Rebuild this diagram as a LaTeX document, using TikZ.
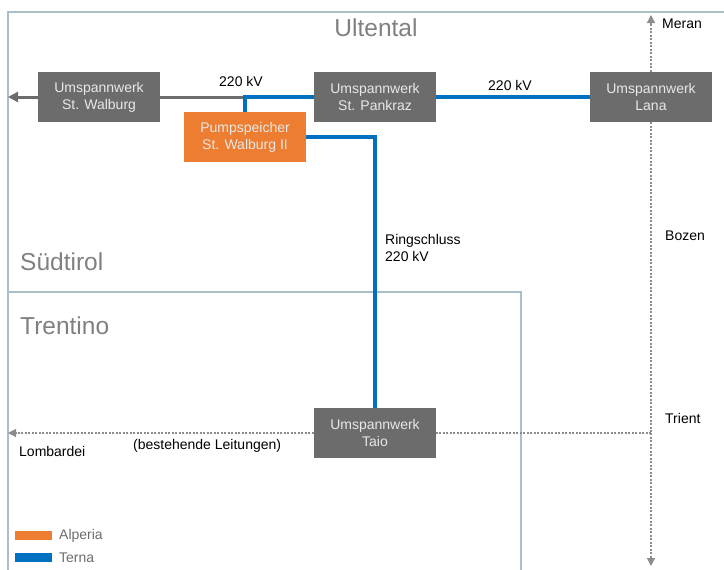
\documentclass[tikz,border=0pt]{standalone}
\usepackage{fontspec}
\setmainfont{Liberation Sans}
\usetikzlibrary{arrows.meta}
\usepackage{xcolor}
\definecolor{werkgrau}{RGB}{108,108,108}
\definecolor{werktext}{RGB}{232,232,232}
\definecolor{alperia}{RGB}{237,125,49}
\definecolor{terna}{RGB}{0,112,192}
\definecolor{rahmenfarbe}{RGB}{168,192,200}
\definecolor{gebiet}{RGB}{128,128,128}
\definecolor{punktlinie}{RGB}{140,140,140}

\begin{document}
\begin{tikzpicture}[x=1pt,y=-1pt,line cap=round,
  font=\fontsize{14}{17}\selectfont,
  werk/.style={fill=werkgrau,text=werktext,align=center,minimum width=122pt,minimum height=50pt,inner sep=0pt},
  speicher/.style={werk,fill=alperia},
  region/.style={text=gebiet,font=\fontsize{24.5}{28}\selectfont,inner sep=0pt},
  ort/.style={inner sep=0pt},
  rahmen/.style={rahmenfarbe,line width=1.2pt,line cap=butt},
  ternaline/.style={terna,line width=4pt,line cap=butt},
  bestand/.style={punktlinie,line width=1.2pt,dash pattern=on 2pt off 1.5pt,line cap=butt,-{Triangle[length=8pt,width=8pt]}},
  bestandnt/.style={punktlinie,line width=1.2pt,dash pattern=on 2pt off 1.5pt,line cap=butt}]
\useasboundingbox (0,0) rectangle (724,570);
% Rahmen der Gebiete
\draw[rahmen] (8,570) -- (8,12) -- (724,12);
\draw[rahmen] (8,292) -- (521,292) -- (521,570);
\node[region] (ultental) at (376,28) {Ultental};
\node[region,anchor=west] (suedtirol) at (20,262) {Südtirol};
\node[region,anchor=west] (trentino) at (20,326) {Trentino};
% Umspannwerke
\node[werk] (walburg) at (99,97) {Umspannwerk\\St. Walburg};
\node[werk] (pankraz) at (375,97) {Umspannwerk\\St. Pankraz};
\node[werk] (lana) at (651,97) {Umspannwerk\\Lana};
\node[speicher] (pump) at (245,137) {Pumpspeicher\\St. Walburg II};
\node[werk] (taio) at (375,433) {Umspannwerk\\Taio};
% freie Enden
\coordinate (westende) at (8,97);
\coordinate (meranende) at (651,15);
\coordinate (suedende) at (651,566);
\coordinate (knick) at (651,433);
\coordinate (lombardende) at (8,433);
% bestehende Leitungen
\draw[bestand] (lana) -- (meranende);
\draw[bestandnt] (lana) -- (knick);
\draw[bestand] (knick) -- (suedende);
\draw[bestandnt] (knick) -- (taio);
\draw[bestand] (taio) -- (lombardende);
% Leitungen
\draw[werkgrau,line width=3pt,line cap=butt,-{Triangle[length=10pt,width=10pt]}] (walburg) -- (westende);
\draw[werkgrau,line width=3pt,line cap=butt] (walburg) -- (pankraz);
\draw[ternaline] (pump) |- (pankraz);
\draw[ternaline] (pankraz) -- (lana);
\draw[ternaline] (pump.east) -| (taio);
% Beschriftungen
\node[ort] (kv1) at (241,81) {220 kV};
\node[ort] (kv2) at (510,85) {220 kV};
\node[ort,anchor=north west,align=left] (ring) at (385,234) {Ringschluss\\220 kV};
\node[ort,anchor=west] (meran) at (662,24) {Meran};
\node[ort,anchor=west] (bozen) at (665,236) {Bozen};
\node[ort,anchor=west] (trient) at (665,418) {Trient};
\node[ort,anchor=west] (lombardei) at (19,451) {Lombardei};
\node[ort,anchor=west] (bestehend) at (133,446) {(bestehende Leitungen)};
% Legende
\fill[alperia] (15,531) rectangle (52,540);
\fill[terna] (15,553) rectangle (52,562);
\node[ort,anchor=west,text=werkgrau] (legalperia) at (59,536) {Alperia};
\node[ort,anchor=west,text=werkgrau] (legterna) at (59,558) {Terna};
\end{tikzpicture}
\end{document}
